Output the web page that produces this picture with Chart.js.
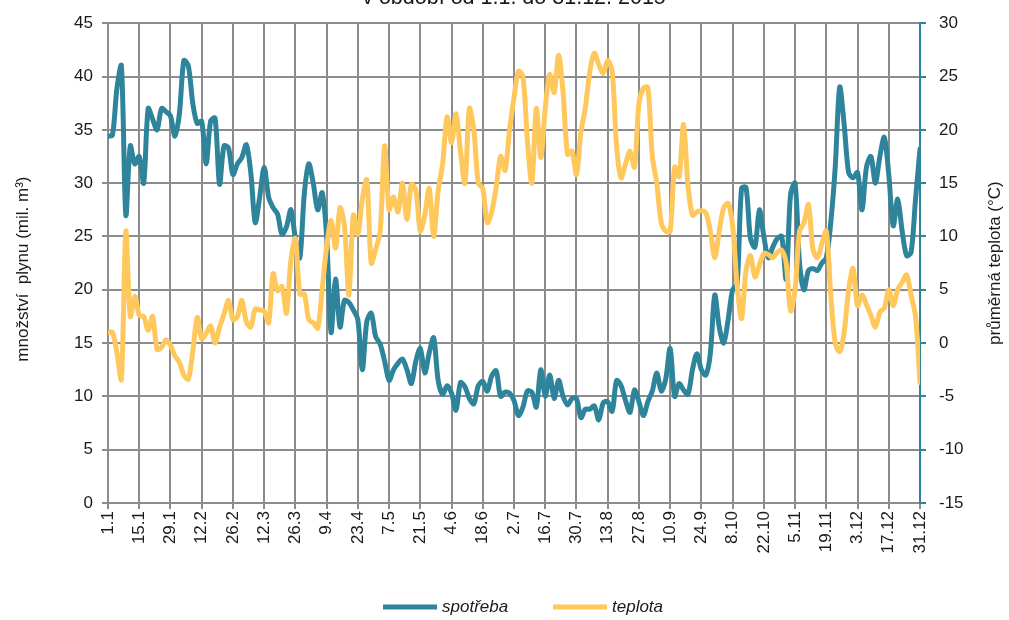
<!DOCTYPE html>
<html>
<head>
<meta charset="utf-8">
<script src="https://cdn.jsdelivr.net/npm/chart.js@4.4.1/dist/chart.umd.min.js"></script>
<style>
  html, body { margin: 0; padding: 0; background: #ffffff; }
  #wrap { position: relative; width: 1009px; height: 620px; }
</style>
</head>
<body>
<div id="wrap"><canvas id="c" width="1009" height="620"></canvas></div>
<script>
// ---- data (every second day, 1.1.2015 – 31.12.2015) ----
const chartTitle = 'v období od 1.1. do 31.12. 2015';
const seriesNames = ['spotřeba', 'teplota'];
const leftAxisTitle = 'množství  plynu (mil. m³)';
const rightAxisTitle = 'průměrná teplota (°C)';
const tickLabels = ['1.1','15.1','29.1','12.2','26.2','12.3','26.3','9.4','23.4','7.5','21.5','4.6','18.6','2.7','16.7','30.7','13.8','27.8','10.9','24.9','8.10','22.10','5.11','19.11','3.12','17.12','31.12'];
const DAY_STEP = 2;   // one value every second day
const TICK_DAYS = 14; // a tick label every 14 days

const spotreba = [
  34.4, 34.5, 38.9, 41, 27, 33.5, 31.8, 32.5, 30, 37,
  36, 35, 37, 36.7, 36.3, 34.4, 36.5, 41.5, 41, 37.5,
  35.6, 35.8, 31.8, 35.8, 36.1, 29.9, 33.5, 33.3, 30.8, 31.8,
  32.4, 33.6, 31, 26.3, 28.7, 31.5, 28.7, 27.7, 27.1, 25.2,
  25.9, 27.5, 24.8, 23, 29, 31.8, 30, 27.5, 29.1, 25,
  16, 21, 16.5, 19, 18.8, 18.1, 17.2, 12.5, 17, 17.8,
  15.6, 14.9, 13.3, 11.5, 12.5, 13.1, 13.5, 12.5, 11.2, 13.3,
  14.5, 12.2, 14.1, 15.5, 11.5, 10.2, 11, 10.3, 8.7, 11.3,
  10.9, 9.8, 9.3, 11, 11.4, 10.5, 11.9, 12.4, 10, 10.4,
  10.3, 9.6, 8.2, 9, 10.5, 10.4, 9, 12.5, 10, 12,
  9.8, 11.5, 10, 9.2, 9.8, 9.8, 8, 8.8, 8.8, 9.1,
  7.8, 9.4, 9.5, 8.6, 11.5, 11, 9.6, 8.5, 10.6, 9.5,
  8.2, 9.5, 10.5, 12.2, 10.5, 11.6, 14.5, 10, 11.2, 10.6,
  10.2, 12.5, 14, 12.5, 12, 14, 19.5, 16.5, 15, 17.2,
  20, 20.5, 29.5, 29.6, 24.8, 24, 27.5, 25, 23, 24,
  24.8, 25, 21, 29, 30, 22.5, 20, 21.8, 22, 21.8,
  22.5, 23, 26.3, 31.5, 39, 35.5, 31, 30.5, 31, 27.5,
  31.5, 32.5, 30, 32.5, 34.3, 30.8, 26, 28.5, 25.5, 23.2,
  23.5, 28.5, 33.2
];

const teplota = [
  1.0, 1.0, -0.9, -3.4, 10.5, 2.5, 4.4, 2.6, 2.5, 1.2,
  2.5, -0.6, -0.4, 0.3, -0.2, -1.2, -1.8, -3, -3.4, -0.8,
  2.4, 0.4, 0.9, 1.6, 0, 1.5, 2.7, 4, 2.2, 2.5,
  4, 2, 1.5, 3.2, 3.1, 3, 1.9, 6.5, 4.9, 5.3,
  2.8, 7.8, 9.8, 4.6, 4.6, 2.2, 1.9, 1.4, 5, 9,
  11.5, 8.9, 12.7, 11, 4.5, 12, 10.2, 13.5, 15.3, 7.5,
  8.8, 10.5, 18.5, 12.5, 13.7, 12.3, 15, 11.6, 14.9, 14.3,
  10.5, 12, 14.5, 10, 14.3, 16.8, 21.2, 18.8, 21.5, 18,
  15, 22, 20, 15, 14.5, 11.3, 12.3, 14.6, 17.5, 16.2,
  20, 23, 25.5, 25, 19, 15, 22, 17.4, 22, 25.2,
  23.5, 27, 23.5, 17.7, 18, 15.8, 19.8, 22.1, 25.5, 27.2,
  26.1, 25.3, 26.5, 25.5, 18.4, 15.5, 16.8, 18, 16.5, 22.5,
  23.9, 24, 17.5, 15, 11.3, 10.5, 10.5, 16.5, 15.6, 20.5,
  14.8, 12, 12.3, 12.4, 12.2, 10.5, 8, 10.5, 12.7, 13.1,
  11, 5.5, 2.3, 6.8, 8.2, 6.2, 7.3, 8.4, 8.3, 8,
  8.5, 8.7, 7.5, 3, 5, 10.5, 11.3, 13, 8.8, 8,
  9.3, 10.5, 4.5, 0, -0.8, 1, 5, 7, 3.5, 4.5,
  3.6, 2.6, 1.5, 2.9, 3.3, 5, 3.5, 5, 5.7, 6.4,
  4.5, 2.5, -3.7
];

// ---- styling ----
const TEAL = '#2e849b';
const YELLOW = '#ffc85c';
const GRID = '#8c8c8c';
const FONT = "'Liberation Sans', Arial, sans-serif";
const LAST_DAY = (spotreba.length - 1) * DAY_STEP;

const toPoints = arr => arr.map((v, i) => ({ x: i * DAY_STEP, y: v }));

Chart.defaults.font.family = FONT;
Chart.defaults.font.size = 17;
Chart.defaults.color = '#1a1a1a';

const extrasPlugin = {
  id: 'extras',
  afterDraw(chart) {
    const ctx = chart.ctx;
    const a = chart.chartArea;
    ctx.save();
    // cut-off title
    ctx.fillStyle = '#1a1a1a';
    ctx.font = '21.5px ' + FONT;
    ctx.textAlign = 'center';
    ctx.textBaseline = 'alphabetic';
    ctx.fillText(chartTitle, 514, 4);
    // axis titles
    ctx.font = '17px ' + FONT;
    ctx.textBaseline = 'middle';
    ctx.save();
    ctx.translate(23, (a.top + a.bottom) / 2 + 6);
    ctx.rotate(-Math.PI / 2);
    ctx.fillText(leftAxisTitle, 0, 0);
    ctx.restore();
    ctx.save();
    ctx.translate(995, (a.top + a.bottom) / 2);
    ctx.rotate(-Math.PI / 2);
    ctx.fillText(rightAxisTitle, 0, 0);
    ctx.restore();
    // legend
    const ly = 607;
    const items = [
      { x: 383, color: TEAL, text: seriesNames[0] },
      { x: 553, color: YELLOW, text: seriesNames[1] }
    ];
    ctx.font = 'italic 17px ' + FONT;
    ctx.textAlign = 'left';
    items.forEach(it => {
      ctx.strokeStyle = it.color;
      ctx.lineWidth = 5;
      ctx.beginPath();
      ctx.moveTo(it.x, ly);
      ctx.lineTo(it.x + 54, ly);
      ctx.stroke();
      ctx.fillStyle = '#1a1a1a';
      ctx.fillText(it.text, it.x + 59, ly);
    });
    ctx.restore();
  }
};

new Chart(document.getElementById('c'), {
  type: 'line',
  data: {
    datasets: [
      {
        label: seriesNames[0],
        data: toPoints(spotreba),
        yAxisID: 'y',
        borderColor: TEAL,
        backgroundColor: TEAL,
        borderWidth: 5,
        pointRadius: 0,
        tension: 0.3,
        borderJoinStyle: 'round',
        borderCapStyle: 'round',
        order: 1
      },
      {
        label: seriesNames[1],
        data: toPoints(teplota),
        yAxisID: 'y1',
        borderColor: YELLOW,
        backgroundColor: YELLOW,
        borderWidth: 5,
        pointRadius: 0,
        tension: 0.3,
        borderJoinStyle: 'round',
        borderCapStyle: 'round',
        order: 0
      }
    ]
  },
  options: {
    responsive: false,
    animation: false,
    events: [],
    layout: { padding: { top: 22, left: 0, right: 0, bottom: 0 } },
    plugins: { legend: { display: false }, title: { display: false }, tooltip: { enabled: false } },
    scales: {
      x: {
        type: 'linear',
        min: 0,
        max: LAST_DAY,
        grid: {
          color: c => (c.tick && c.tick.value === LAST_DAY) ? 'rgba(0,0,0,0)' : GRID,
          tickColor: GRID,
          lineWidth: 2,
          tickLength: 6
        },
        border: { display: true, color: GRID, width: 2 },
        ticks: {
          stepSize: TICK_DAYS,
          autoSkip: false,
          minRotation: 90,
          maxRotation: 90,
          padding: 2,
          callback: v => tickLabels[Math.round(v / TICK_DAYS)] || ''
        },
        afterFit(s) { s.height = 117; }
      },
      y: {
        position: 'left',
        min: 0, max: 45,
        ticks: { stepSize: 5, padding: 9 },
        grid: { color: GRID, lineWidth: 2, tickLength: 6 },
        border: { display: false },
        afterFit(s) { s.width = 108; }
      },
      y1: {
        position: 'right',
        min: -15, max: 30,
        ticks: { stepSize: 5, padding: 13 },
        grid: { drawOnChartArea: false, color: TEAL, lineWidth: 2, tickLength: 6 },
        border: { display: true, color: TEAL, width: 2 },
        afterFit(s) { s.width = 89; }
      }
    }
  },
  plugins: [extrasPlugin]
});
</script>
</body>
</html>
